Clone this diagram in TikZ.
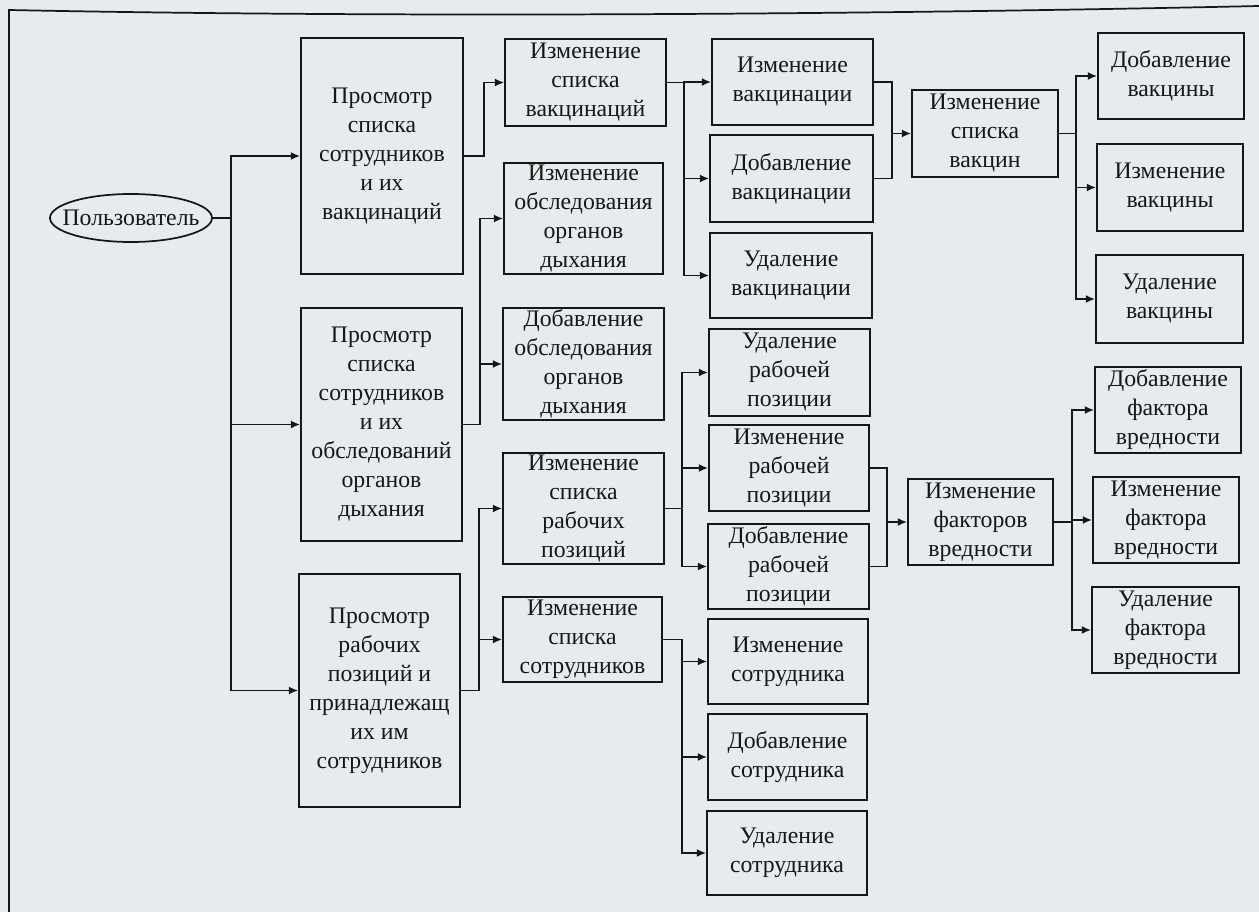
\documentclass[tikz,border=0pt]{standalone}
\usepackage{fontspec}
\setmainfont{Liberation Serif}
\usetikzlibrary{shapes.geometric,arrows.meta}
\definecolor{bg}{RGB}{231,235,238}
\definecolor{ink}{RGB}{22,22,22}
\newcommand{\bx}[6]{\node[box, minimum width={(#4-#2)*0.75pt}, minimum height={(#5-#3)*0.75pt}] (#1) at ({(#2+#4)/2},{(#3+#5)/2}) {#6};}
\begin{document}
\begin{tikzpicture}[x=0.75pt,y=-0.75pt,
  txt/.style={text=ink, font=\fontsize{17.8}{21.75}\selectfont},
  box/.style={draw=ink, line width=1.3pt, inner sep=0pt, align=center, txt},
  conn/.style={draw=ink, line width=1.3pt},
  arr/.style={conn, -{Latex[length=7pt,width=6pt]}}]
\useasboundingbox (0,0) rectangle (1259,912);
\fill[bg] (0,0) rectangle (1259,912);
\draw[conn] (9,912) -- (9,10) .. controls (350,17) and (800,16) .. (1259,6);

\node[ellipse, draw=ink, line width=1.3pt, inner sep=0pt, minimum width=162*0.75pt, minimum height=48*0.75pt, txt] (user) at (131,218) {\makebox[0pt]{Пользователь}};

\bx{b1}{301}{38}{463}{274}{Просмотр\\списка\\сотрудников\\и их\\вакцинаций}
\bx{b2}{301}{308}{462}{541}{Просмотр\\списка\\сотрудников\\и их\\обследований\\органов\\дыхания}
\bx{b3}{299}{574}{460}{807}{Просмотр\\рабочих\\позиций и\\принадлежащ\\их им\\сотрудников}

\bx{c1}{505}{39}{666}{126}{Изменение\\списка\\вакцинаций}
\bx{c2}{504}{163}{663}{274}{Изменение\\обследования\\органов\\дыхания}
\bx{c3}{503}{308}{664}{420}{Добавление\\обследования\\органов\\дыхания}
\bx{c4}{503}{453}{664}{564}{Изменение\\списка\\рабочих\\позиций}
\bx{c5}{503}{597}{662}{682}{Изменение\\списка\\сотрудников}

\bx{d1}{712}{39}{873}{125}{Изменение\\вакцинации}
\bx{d2}{710}{135}{873}{222}{Добавление\\вакцинации}
\bx{d3}{710}{233}{872}{318}{Удаление\\вакцинации}
\bx{g1}{709}{329}{870}{416}{Удаление\\рабочей\\позиции}
\bx{g2}{709}{425}{869}{511}{Изменение\\рабочей\\позиции}
\bx{g3}{708}{524}{869}{609}{Добавление\\рабочей\\позиции}
\bx{s1}{708}{619}{868}{704}{Изменение\\сотрудника}
\bx{s2}{708}{714}{867}{800}{Добавление\\сотрудника}
\bx{s3}{707}{811}{867}{895}{Удаление\\сотрудника}

\bx{e1}{912}{90}{1058}{177}{Изменение\\списка\\вакцин}
\bx{h1}{908}{479}{1053}{565}{Изменение\\факторов\\вредности}

\bx{f1}{1098}{33}{1244}{119}{Добавление\\вакцины}
\bx{f2}{1097}{144}{1243}{231}{Изменение\\вакцины}
\bx{f3}{1096}{255}{1243}{343}{Удаление\\вакцины}
\bx{k1}{1095}{367}{1241}{453}{Добавление\\фактора\\вредности}
\bx{k2}{1093}{477}{1239}{563}{Изменение\\фактора\\вредности}
\bx{k3}{1092}{587}{1239}{673}{Удаление\\фактора\\вредности}

\coordinate (j0) at (231,218);
\draw[conn] (user.east) -- (j0);
\draw[arr] (j0) |- (b1.west);
\draw[arr] (j0) |- (b2.west);
\draw[arr] (j0) |- (b3.west);

\draw[arr] (b1.east) -- ++(20,0) |- (c1.west);
\draw[arr] (b2.east) -- ++(17,0) |- (c2.west);
\draw[arr] (b2.east) -- ++(17,0) |- (c3.west);
\draw[arr] (b3.east) -- ++(18,0) |- (c4.west);
\draw[arr] (b3.east) -- ++(18,0) |- (c5.west);

\draw[arr] (c1.east) -- ++(17,0) |- (d1.west);
\draw[arr] (c1.east) -- ++(17,0) |- (d2.west);
\draw[arr] (c1.east) -- ++(17,0) |- (d3.west);
\draw[arr] (c4.east) -- ++(17,0) |- (g1.west);
\draw[arr] (c4.east) -- ++(17,0) |- (g2.west);
\draw[arr] (c4.east) -- ++(17,0) |- (g3.west);
\draw[arr] (c5.east) -- ++(19,0) |- (s1.west);
\draw[arr] (c5.east) -- ++(19,0) |- (s2.west);
\draw[arr] (c5.east) -- ++(19,0) |- (s3.west);

\coordinate (m1) at (892,133.5);
\draw[conn] (d1.east) -| (m1);
\draw[conn] (d2.east) -| (m1);
\draw[arr] (m1) -- (e1.west);
\coordinate (m2) at (887,522);
\draw[conn] (g2.east) -| (m2);
\draw[conn] (g3.east) -| (m2);
\draw[arr] (m2) -- (h1.west);

\draw[arr] (e1.east) -- ++(17,0) |- (f1.west);
\draw[arr] (e1.east) -- ++(17,0) |- (f2.west);
\draw[arr] (e1.east) -- ++(17,0) |- (f3.west);
\draw[arr] (h1.east) -- ++(18,0) |- (k1.west);
\draw[arr] (h1.east) -- ++(18,0) |- (k2.west);
\draw[arr] (h1.east) -- ++(18,0) |- (k3.west);
\end{tikzpicture}
\end{document}
